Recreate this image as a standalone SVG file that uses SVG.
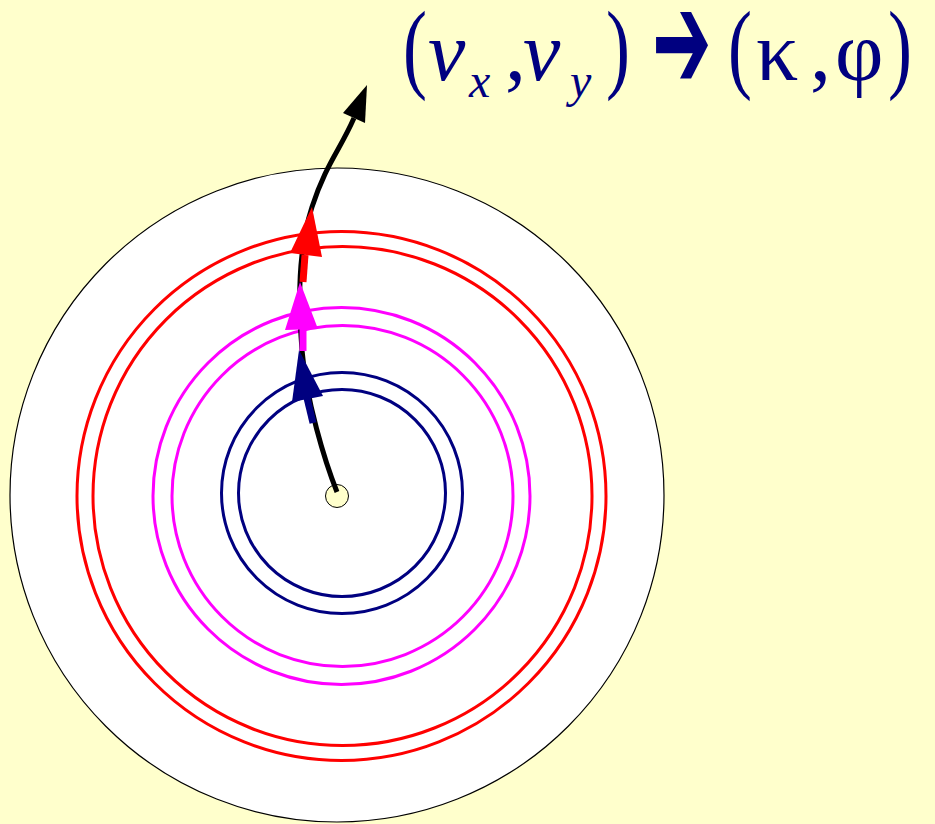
<svg xmlns="http://www.w3.org/2000/svg" width="935" height="824" viewBox="0 0 935 824">
<style>
.ring{fill:none;stroke-width:3}
.navy{stroke:#000080}
.mag{stroke:#FF00FF}
.red{stroke:#FF0000}
.t{fill:#000080;font-family:"Liberation Serif","Times New Roman",serif}
.it{font-style:italic}
</style>
<rect x="0" y="0" width="935" height="824" fill="#FFFFCC"/>
<g id="disk">
<circle cx="337" cy="495" r="327" fill="#FFFFFF" stroke="#000000" stroke-width="1.2"/>
</g>
<g id="rings">
<circle class="ring red" cx="341.5" cy="496" r="264.5"/>
<circle class="ring red" cx="342.5" cy="496" r="249.5"/>
<circle class="ring mag" cx="341.5" cy="496" r="188.5"/>
<circle class="ring mag" cx="342.5" cy="496" r="170.5"/>
<circle class="ring navy" cx="342" cy="493" r="120.5"/>
<circle class="ring navy" cx="342" cy="493" r="103.5"/>
</g>
<g id="center">
<circle cx="337" cy="496" r="11.5" fill="#FFFFCC" stroke="#000000" stroke-width="1"/>
</g>
<g id="connectors">
<path d="M337,492 C325,462 306,400 302,350 S298,250 312,207 S340,150 354,118" fill="none" stroke="#000000" stroke-width="5"/>
<polygon points="367,85 343,113 365,123" fill="#000000"/>
<path d="M313,423 L307,398" fill="none" stroke="#000080" stroke-width="7"/>
<polygon points="299,350 292,402 323,396" fill="#000080"/>
<path d="M303,351 L303,328" fill="none" stroke="#FF00FF" stroke-width="7"/>
<polygon points="300,282 285,330 318,329" fill="#FF00FF"/>
<path d="M303,282 L305,255" fill="none" stroke="#FF0000" stroke-width="7"/>
<polygon points="312,207 290,253 322,257" fill="#FF0000"/>
</g>
<g id="title">
<text class="t" font-size="100" transform="translate(403,80) scale(0.72,1)">(</text>
<text class="t it" font-size="84" x="428" y="80">v</text>
<text class="t it" font-size="48" x="469" y="97">x</text>
<text class="t" font-size="84" x="505" y="80">,</text>
<text class="t it" font-size="84" x="523" y="80">v</text>
<text class="t it" font-size="48" x="570" y="97">y</text>
<text class="t" font-size="100" transform="translate(606,80) scale(0.72,1)">)</text>
<text font-family="DejaVu Sans, sans-serif" font-weight="bold" font-size="96" fill="#000080" transform="translate(652,89) scale(0.74,1.45)">➔</text>
<text class="t" font-size="100" transform="translate(728,80) scale(0.72,1)">(</text>
<text class="t" font-size="84" x="756" y="80">κ</text>
<text class="t" font-size="84" x="810" y="80">,</text>
<text class="t" font-size="84" x="835" y="80">φ</text>
<text class="t" font-size="100" transform="translate(888,80) scale(0.72,1)">)</text>
</g>
</svg>
